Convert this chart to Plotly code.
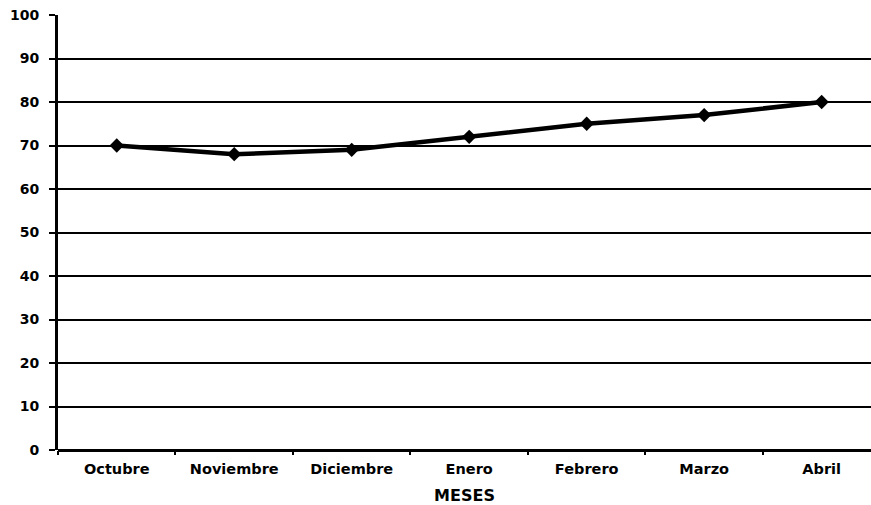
import plotly.graph_objects as go

meses = ["Octubre", "Noviembre", "Diciembre", "Enero", "Febrero", "Marzo", "Abril"]
valores = [70, 68, 69, 72, 75, 77, 80]

fig = go.Figure()
fig.add_trace(go.Scatter(
    x=meses, y=valores,
    mode="lines+markers",
    line=dict(color="black", width=4.5),
    marker=dict(symbol="diamond", size=11, color="black"),
    showlegend=False,
))

font = dict(family="DejaVu Sans, sans-serif", color="black")

fig.update_layout(
    width=871, height=505,
    margin=dict(l=58, r=0, t=15, b=55),
    paper_bgcolor="white", plot_bgcolor="white",
    font=dict(**font, size=13),
)
fig.update_xaxes(
    type="category",
    range=[-0.5, 6.42],
    showgrid=False,
    tickson="boundaries",
    ticks="outside", ticklen=4, tickwidth=2, tickcolor="black",
    showline=False,
    tickfont=dict(**font, size=14.5),
    tickprefix="<b>", ticksuffix="</b>",
    ticklabelstandoff=8,
    title=dict(text="<b>MESES</b>", font=dict(**font, size=16), standoff=16),
)
fig.update_yaxes(
    range=[0, 100],
    dtick=10,
    showgrid=True, gridcolor="black", gridwidth=1.5,
    zeroline=True, zerolinecolor="black", zerolinewidth=2.5,
    showline=True, linecolor="black", linewidth=3,
    ticks="outside", ticklen=6, tickwidth=1.5, tickcolor="black",
    tickfont=dict(**font, size=14),
    tickprefix="<b>", ticksuffix="</b>",
    ticklabelstandoff=7,
)

fig.write_html("out.html")
